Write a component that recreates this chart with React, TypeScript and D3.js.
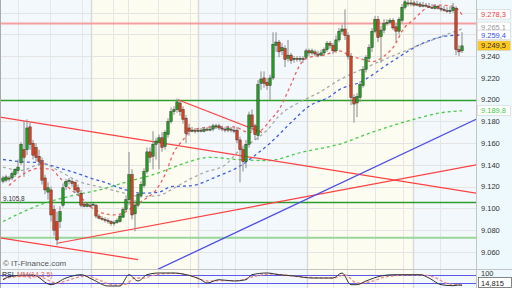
import React from 'react';
import * as d3 from 'd3';

// candles: [open, high, low, close]
const ohlc: [number, number, number, number][] = [
  [9.125, 9.130, 9.123, 9.128], [9.126, 9.131, 9.124, 9.129], [9.128, 9.130, 9.125, 9.127], [9.128, 9.134, 9.126, 9.132],
  [9.131, 9.137, 9.129, 9.136], [9.135, 9.145, 9.132, 9.138], [9.142, 9.161, 9.140, 9.159], [9.154, 9.180, 9.129, 9.147],
  [9.154, 9.182, 9.149, 9.174], [9.175, 9.179, 9.154, 9.159], [9.160, 9.163, 9.145, 9.149], [9.156, 9.160, 9.143, 9.147],
  [9.148, 9.154, 9.139, 9.143], [9.144, 9.147, 9.122, 9.126], [9.128, 9.131, 9.113, 9.117], [9.115, 9.124, 9.108, 9.119],
  [9.117, 9.120, 9.088, 9.094], [9.099, 9.103, 9.075, 9.080], [9.088, 9.097, 9.066, 9.071], [9.088, 9.102, 9.082, 9.097],
  [9.103, 9.123, 9.101, 9.119], [9.120, 9.127, 9.117, 9.125], [9.125, 9.128, 9.122, 9.126], [9.125, 9.127, 9.120, 9.123],
  [9.124, 9.125, 9.114, 9.117], [9.119, 9.122, 9.112, 9.115], [9.114, 9.117, 9.101, 9.103], [9.104, 9.106, 9.101, 9.102],
  [9.102, 9.105, 9.101, 9.104], [9.103, 9.105, 9.101, 9.102], [9.103, 9.105, 9.102, 9.104], [9.103, 9.104, 9.091, 9.093],
  [9.093, 9.095, 9.090, 9.091], [9.091, 9.093, 9.089, 9.090], [9.090, 9.092, 9.087, 9.089], [9.089, 9.091, 9.086, 9.088],
  [9.088, 9.089, 9.084, 9.086], [9.086, 9.089, 9.084, 9.087], [9.087, 9.091, 9.086, 9.089], [9.088, 9.095, 9.087, 9.093],
  [9.092, 9.101, 9.091, 9.099], [9.099, 9.112, 9.097, 9.108], [9.108, 9.152, 9.103, 9.131], [9.131, 9.136, 9.090, 9.094],
  [9.095, 9.108, 9.079, 9.103], [9.103, 9.115, 9.101, 9.113], [9.112, 9.125, 9.110, 9.122], [9.121, 9.137, 9.119, 9.134],
  [9.134, 9.156, 9.132, 9.152], [9.152, 9.156, 9.142, 9.147], [9.148, 9.171, 9.136, 9.159], [9.159, 9.165, 9.145, 9.162],
  [9.161, 9.168, 9.136, 9.165], [9.165, 9.170, 9.152, 9.156], [9.157, 9.172, 9.154, 9.170], [9.168, 9.183, 9.165, 9.180],
  [9.180, 9.193, 9.178, 9.189], [9.189, 9.194, 9.186, 9.191], [9.191, 9.201, 9.188, 9.198], [9.197, 9.200, 9.185, 9.189],
  [9.191, 9.194, 9.178, 9.182], [9.183, 9.186, 9.160, 9.169], [9.174, 9.178, 9.167, 9.171], [9.171, 9.175, 9.170, 9.172],
  [9.172, 9.174, 9.169, 9.171], [9.171, 9.174, 9.170, 9.172], [9.172, 9.174, 9.170, 9.171], [9.171, 9.175, 9.170, 9.173],
  [9.173, 9.175, 9.171, 9.172], [9.172, 9.176, 9.171, 9.173], [9.173, 9.178, 9.171, 9.176], [9.175, 9.178, 9.173, 9.176],
  [9.176, 9.178, 9.172, 9.174], [9.174, 9.176, 9.171, 9.173], [9.173, 9.175, 9.170, 9.172], [9.172, 9.176, 9.170, 9.174],
  [9.173, 9.175, 9.170, 9.172], [9.172, 9.175, 9.169, 9.171], [9.172, 9.175, 9.160, 9.163], [9.163, 9.166, 9.124, 9.154],
  [9.154, 9.158, 9.134, 9.143], [9.143, 9.163, 9.137, 9.159], [9.159, 9.189, 9.156, 9.186], [9.186, 9.191, 9.171, 9.175],
  [9.176, 9.178, 9.163, 9.168], [9.167, 9.218, 9.163, 9.214], [9.215, 9.226, 9.209, 9.219], [9.220, 9.226, 9.211, 9.215],
  [9.216, 9.220, 9.209, 9.213], [9.213, 9.223, 9.200, 9.220], [9.220, 9.262, 9.218, 9.251], [9.250, 9.262, 9.244, 9.253],
  [9.253, 9.255, 9.239, 9.244], [9.245, 9.252, 9.241, 9.248], [9.247, 9.250, 9.230, 9.237], [9.238, 9.255, 9.235, 9.241],
  [9.241, 9.243, 9.233, 9.236], [9.237, 9.240, 9.234, 9.238], [9.238, 9.240, 9.235, 9.237], [9.237, 9.240, 9.235, 9.238],
  [9.238, 9.240, 9.234, 9.237], [9.239, 9.247, 9.237, 9.245], [9.245, 9.247, 9.240, 9.243], [9.243, 9.247, 9.241, 9.245],
  [9.244, 9.246, 9.240, 9.242], [9.242, 9.245, 9.239, 9.241], [9.241, 9.246, 9.240, 9.243], [9.243, 9.248, 9.241, 9.246],
  [9.246, 9.254, 9.244, 9.252], [9.252, 9.254, 9.247, 9.250], [9.250, 9.252, 9.242, 9.245], [9.245, 9.259, 9.243, 9.255],
  [9.255, 9.266, 9.253, 9.263], [9.263, 9.269, 9.260, 9.265], [9.265, 9.283, 9.255, 9.259], [9.259, 9.262, 9.237, 9.240],
  [9.240, 9.243, 9.195, 9.202], [9.202, 9.205, 9.179, 9.196], [9.197, 9.206, 9.184, 9.203], [9.202, 9.217, 9.198, 9.214],
  [9.213, 9.231, 9.211, 9.228], [9.228, 9.241, 9.225, 9.239], [9.238, 9.251, 9.235, 9.248], [9.248, 9.266, 9.244, 9.263],
  [9.263, 9.277, 9.261, 9.274], [9.274, 9.277, 9.253, 9.257], [9.258, 9.268, 9.234, 9.264], [9.264, 9.274, 9.261, 9.270],
  [9.270, 9.274, 9.268, 9.271], [9.271, 9.275, 9.270, 9.273], [9.273, 9.275, 9.264, 9.266], [9.267, 9.270, 9.253, 9.263],
  [9.263, 9.276, 9.260, 9.274], [9.273, 9.288, 9.271, 9.285], [9.285, 9.294, 9.283, 9.290], [9.289, 9.294, 9.286, 9.288],
  [9.288, 9.292, 9.286, 9.289], [9.289, 9.291, 9.286, 9.287], [9.287, 9.291, 9.286, 9.288], [9.288, 9.290, 9.285, 9.286],
  [9.286, 9.290, 9.285, 9.287], [9.287, 9.289, 9.285, 9.286], [9.286, 9.289, 9.285, 9.285], [9.285, 9.288, 9.284, 9.284],
  [9.284, 9.288, 9.283, 9.286], [9.286, 9.287, 9.283, 9.284], [9.284, 9.286, 9.281, 9.283], [9.283, 9.286, 9.281, 9.282],
  [9.282, 9.285, 9.280, 9.281], [9.281, 9.286, 9.279, 9.282], [9.282, 9.289, 9.280, 9.285], [9.284, 9.286, 9.241, 9.246],
  [9.246, 9.250, 9.240, 9.244], [9.245, 9.262, 9.243, 9.2495],
];

// moving averages: [candle index, value]
const maRed: [number, number][] = [
  [2, 9.121], [7, 9.132], [12, 9.137], [16, 9.136], [19, 9.128], [22, 9.119], [26, 9.110], [29, 9.102], [32, 9.097],
  [37, 9.094], [41, 9.097], [44, 9.103], [47, 9.108], [51, 9.117], [54, 9.131], [57, 9.152], [60, 9.163], [62, 9.170],
  [66, 9.174], [71, 9.175], [77, 9.175], [82, 9.170], [86, 9.172], [89, 9.181], [92, 9.191], [96, 9.214], [99, 9.232],
  [102, 9.239], [107, 9.241], [112, 9.245], [116, 9.240], [120, 9.237], [123, 9.235], [127, 9.240], [131, 9.252],
  [133, 9.263], [137, 9.274], [141, 9.284], [145, 9.287], [150, 9.286], [153, 9.2783],
];
const maGrey: [number, number][] = [
  [0, 9.138], [6, 9.135], [13, 9.141], [19, 9.134], [25, 9.125], [32, 9.120], [39, 9.115], [46, 9.111], [52, 9.112],
  [56, 9.117], [61, 9.125], [67, 9.133], [74, 9.140], [79, 9.154], [84, 9.163], [88, 9.172], [92, 9.185], [99, 9.198],
  [105, 9.206], [112, 9.218], [123, 9.232], [135, 9.246], [146, 9.258], [153, 9.265],
];
const maBlue: [number, number][] = [
  [0, 9.145], [6, 9.143], [12, 9.142], [19, 9.137], [26, 9.131], [29, 9.128], [34, 9.124], [41, 9.117], [46, 9.114],
  [52, 9.115], [56, 9.120], [63, 9.121], [71, 9.129], [79, 9.139], [85, 9.151], [89, 9.160], [96, 9.179], [102, 9.194],
  [109, 9.203], [112, 9.209], [119, 9.216], [129, 9.234], [140, 9.252], [149, 9.259], [153, 9.2594],
];
const maGreen: [number, number][] = [
  [0, 9.088], [6, 9.096], [12, 9.103], [22, 9.111], [32, 9.117], [42, 9.125], [50, 9.131], [56, 9.137], [62, 9.143],
  [69, 9.147], [78, 9.145], [88, 9.144], [100, 9.152], [112, 9.159], [123, 9.170], [137, 9.182], [146, 9.188], [153, 9.1898],
];

// drawn trend lines: [[index, value], [index, value]]
const redTrends: [number, number][][] = [
  [[-1, 9.184], [157.7, 9.114]],
  [[18, 9.068], [157.7, 9.140]],
  [[-1, 9.073], [45, 9.053]],
  [[58.3, 9.200], [86.3, 9.170]],
];
const blueTrends: [number, number][][] = [
  [[51.3, 9.0436], [157.7, 9.182]],
];

const levelPink = 9.270;
const levelsGreen = [9.200, 9.1058];
const levelLightGreen = 9.073;

const yTicks = [9.06, 9.08, 9.10, 9.12, 9.14, 9.16, 9.18, 9.20, 9.22, 9.24, 9.26, 9.28];
const sessionBreaks = [-1, 29.3, 65, 101.3, 136.7, 157.7];
const timeGrid = [5, 15.7, 26.3, 36.7, 41.7, 51.7, 62.3, 73, 77.3, 88, 110, 114.7, 124, 133.3, 145.7];

const rsi: [number, number][] = [
  [0, 46.5], [3, 65], [10, 70], [16, 21.5], [21, 55], [26, 71.5], [30, 46.5], [35, 15], [39, 15], [42, 71.5], [45, 40],
  [48, 71.5], [52, 80], [57, 80], [61, 71.5], [66, 46.5], [68, 30], [72, 46.5], [77, 40], [81, 46.5], [83, 71.5], [88, 80],
  [92, 71.5], [97, 65], [103, 55], [110, 55], [113, 80], [116, 21.5], [118, 21.5], [121, 40], [126, 65], [130, 71.5],
  [135, 71.5], [139, 71.5], [142, 55], [146, 21.5], [150, 16.5], [152, 20], [153, 18],
];
const rsiSignal: [number, number][] = [
  [0, 50], [5, 62], [12, 60], [18, 30], [23, 50], [28, 65], [32, 45], [37, 20], [41, 25], [44, 55], [47, 55], [51, 72],
  [57, 78], [63, 65], [68, 40], [73, 42], [78, 42], [83, 60], [89, 75], [94, 70], [100, 60], [110, 55], [114, 70],
  [118, 30], [122, 35], [127, 58], [132, 68], [140, 70], [144, 58], [148, 28], [153, 20],
];
const rsiLevels = [70, 30];

const priceLabels = [
  { text: '9.265,1', value: 9.2668, color: '#999999', bg: '#ffffff' },
  { text: '9.278,3', value: 9.2783, color: '#e83a3a', bg: '#ffffff' },
  { text: '9.259,4', value: 9.2594, color: '#3050e0', bg: '#ffffff' },
  { text: '9.249,5', value: 9.2495, color: '#333333', bg: '#ffc81e' },
  { text: '9.189,8', value: 9.1898, color: '#44cc44', bg: '#ffffff' },
];

const PR = 476;
const PB = 269;

export default function App() {
  const x = d3.scaleLinear().domain([0, 153]).range([3, 462]);
  const y = d3.scaleLinear().domain([9.0443, 9.2917]).range([PB, 0]);
  const yR = d3.scaleLinear().domain([0, 100]).range([289, 269]);

  const line = d3.line<[number, number]>().x(d => x(d[0])).y(d => y(d[1])).curve(d3.curveMonotoneX);
  const lineR = d3.line<[number, number]>().x(d => x(d[0])).y(d => yR(d[1])).curve(d3.curveMonotoneX);
  const straight = d3.line<[number, number]>().x(d => x(d[0])).y(d => y(d[1]));

  const font = 'Liberation Sans, Arial, sans-serif';

  const bands = sessionBreaks.slice(0, -1).map((b, i) => ({
    x0: Math.max(0, x(b)), x1: Math.min(PR, x(sessionBreaks[i + 1])), fill: i % 2 === 0 ? '#f3f8fd' : '#fdfcf1',
  }));

  // tick labels hidden behind the value boxes
  const visibleTicks = yTicks.filter(t => priceLabels.every(p => Math.abs(y(p.value) - y(t)) > 9));

  return (
    <svg width={512} height={288} style={{ position: 'fixed', left: 0, top: 0, background: '#fff' }}>
      <defs>
        <clipPath id="plot"><rect x={0} y={0} width={PR} height={PB} /></clipPath>
        <clipPath id="rsi"><rect x={0} y={270} width={PR} height={18} /></clipPath>
        <clipPath id="rsiAxis"><rect x={PR} y={270} width={36} height={18} /></clipPath>
      </defs>
      {bands.map((b, i) => (
        <rect key={'b' + i} x={b.x0} y={0} width={b.x1 - b.x0} height={288} fill={b.fill} />
      ))}
      <rect x={PR} y={0} width={36} height={288} fill="#edf9fd" />
      <g clipPath="url(#plot)">
        {yTicks.map(t => (
          <line key={'gy' + t} x1={0} x2={PR} y1={Math.round(y(t)) + 0.5} y2={Math.round(y(t)) + 0.5} stroke="#e4e4e4" />
        ))}
      </g>
      {timeGrid.map(t => (
        <line key={'gx' + t} x1={Math.round(x(t)) + 0.5} x2={Math.round(x(t)) + 0.5} y1={0} y2={288} stroke="#e6e6e6" />
      ))}
      {sessionBreaks.slice(1, -1).map(t => (
        <line key={'sb' + t} x1={Math.round(x(t)) + 0.5} x2={Math.round(x(t)) + 0.5} y1={0} y2={288} stroke="#dadada" strokeWidth={1.5} />
      ))}

      <g clipPath="url(#plot)">
        <line x1={0} x2={PR} y1={y(levelPink)} y2={y(levelPink)} stroke="#f5a0a0" strokeWidth={2} />
        <line x1={0} x2={PR} y1={y(levelLightGreen)} y2={y(levelLightGreen)} stroke="#9ad69a" strokeWidth={2} />
        {levelsGreen.map(l => (
          <line key={'lg' + l} x1={0} x2={PR} y1={Math.round(y(l)) + 0.5} y2={Math.round(y(l)) + 0.5} stroke="#2e9c2e" strokeWidth={1.3} />
        ))}
        <path d={line(maGreen) || ''} fill="none" stroke="#44cc44" strokeWidth={1.3} strokeDasharray="3,3" />
        <path d={line(maBlue) || ''} fill="none" stroke="#3d5ee0" strokeWidth={1.3} strokeDasharray="3,3" />
        <path d={line(maGrey) || ''} fill="none" stroke="#a8a8a8" strokeWidth={1.3} strokeDasharray="3,3" />
        <path d={line(maRed) || ''} fill="none" stroke="#f06060" strokeWidth={1.3} strokeDasharray="3,3" />
        {redTrends.map((t, i) => (
          <path key={'rt' + i} d={straight(t) || ''} fill="none" stroke="#ff4040" strokeWidth={1.2} />
        ))}
        {blueTrends.map((t, i) => (
          <path key={'bt' + i} d={straight(t) || ''} fill="none" stroke="#4f4fe8" strokeWidth={1.3} />
        ))}
        {ohlc.map((c, i) => {
          const [o, h, l, cl] = c;
          const cx = x(i);
          const top = y(Math.max(o, cl));
          const bot = y(Math.min(o, cl));
          return (
            <g key={'c' + i}>
              <line x1={cx} x2={cx} y1={y(h)} y2={y(l)} stroke="#8a8a8a" strokeWidth={1} />
              <rect x={cx - 1.2} y={top} width={2.4} height={Math.max(1, bot - top)}
                fill={cl >= o ? '#1fa31f' : '#e2401c'} stroke="#333" strokeWidth={0.5} />
            </g>
          );
        })}
        <text x={3} y={y(levelsGreen[1]) - 1.5} fontFamily={font} fontSize={6.5} fill="#333">9.105,8</text>
        <text x={3} y={266} fontFamily={font} fontSize={8} fill="#555">© IT-Finance.com</text>
      </g>

      <line x1={0.5} x2={0.5} y1={0} y2={288} stroke="#aaaaaa" />
      <line x1={PR + 0.5} x2={PR + 0.5} y1={0} y2={288} stroke="#c4c4c4" />
      <line x1={0} x2={512} y1={PB + 0.5} y2={PB + 0.5} stroke="#c4c4c4" />

      {visibleTicks.map(t => (
        <text key={'yt' + t} x={481} y={y(t) + 2.6} fontFamily={font} fontSize={7.5} fill="#333">{t.toFixed(3)}</text>
      ))}
      {priceLabels.map(p => (
        <g key={p.text}>
          <rect x={477.5} y={y(p.value) - 5} width={33} height={9.5} fill={p.bg} stroke="#d0d0d0" strokeWidth={0.6} />
          <text x={481} y={y(p.value) + 2.6} fontFamily={font} fontSize={7.5} fill={p.color}>{p.text}</text>
        </g>
      ))}

      <g clipPath="url(#rsi)">
        {rsiLevels.map(l => (
          <line key={'rl' + l} x1={0} x2={PR} y1={Math.round(yR(l)) + 0.5} y2={Math.round(yR(l)) + 0.5} stroke="#5a5ae6" strokeWidth={1} />
        ))}
        <path d={lineR(rsiSignal) || ''} fill="none" stroke="#f08a8a" strokeWidth={1.3} strokeDasharray="3,2" />
        <path d={lineR(rsi) || ''} fill="none" stroke="#333" strokeWidth={1} />
        <text x={2} y={277} fontFamily={font} fontSize={7} fill="#222">RSI</text>
        <text x={17} y={277} fontFamily={font} fontSize={7} fill="#e06060">MM(14 3 5)</text>
      </g>
      <g clipPath="url(#rsiAxis)">
        <text x={481} y={276} fontFamily={font} fontSize={7.5} fill="#333">100</text>
      </g>
      <rect x={478.5} y={277.5} width={33} height={10} fill="#fff" stroke="#666" strokeWidth={0.8} />
      <text x={481} y={285.5} fontFamily={font} fontSize={7.5} fill="#222">14,815</text>
    </svg>
  );
}
